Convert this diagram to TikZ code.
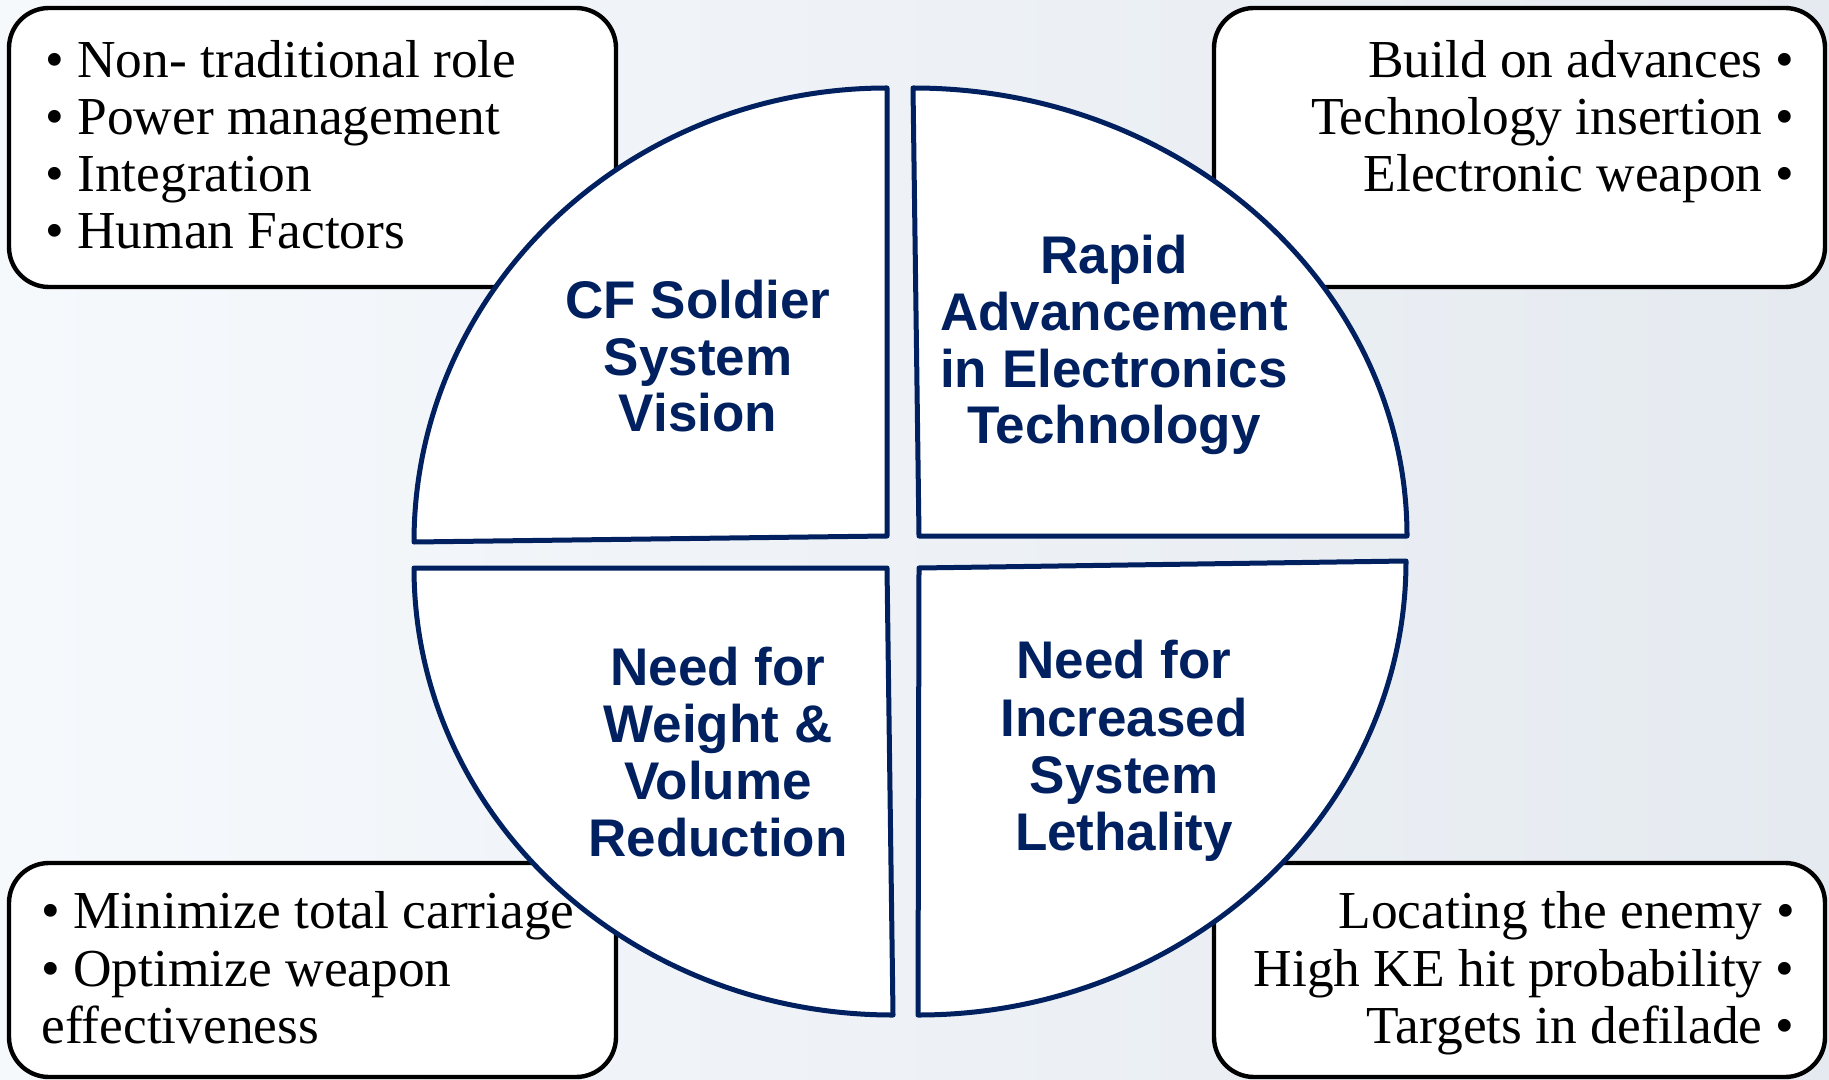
\documentclass[tikz,border=0pt]{standalone}
\usepackage{fontspec}
\setmainfont{Liberation Serif}
\setsansfont{Liberation Sans}
\definecolor{navy}{RGB}{0,32,96}
\definecolor{bgl}{RGB}{246,249,252}
\definecolor{bgr}{RGB}{229,234,240}
\begin{document}
\begin{tikzpicture}[x=0.5pt,y=-0.5pt,
  boxshape/.style={draw=black,line width=2.2pt,fill=white,rounded corners=20pt},
  quad/.style={draw=navy,line width=2.5pt,fill=white,line join=round},
  btxt/.style={inner sep=0pt,font=\fontsize{26.7}{28}\selectfont},
  qtxt/.style={inner sep=0pt,text=navy,font=\fontsize{26.5}{28}\selectfont\sffamily\bfseries,anchor=base}]
\useasboundingbox (0,0) rectangle (1829,1080);
\shade[left color=bgl,right color=bgr] (0,0) rectangle (1829,1080);
% boxes
\draw[boxshape] (9,8) rectangle (616,287);
\draw[boxshape] (1214,8) rectangle (1825,287);
\draw[boxshape] (9,863) rectangle (616,1077);
\draw[boxshape] (1214,863) rectangle (1825,1077);
% quadrants
\draw[quad] (414,542) .. controls (414,291) and (626,88) .. (887,88) -- (887,536) -- cycle;
\draw[quad] (913,88) .. controls (1186,88) and (1407,289) .. (1407,536) -- (919,536) -- cycle;
\draw[quad] (887,568) -- (893,1015) .. controls (628,1015) and (414,815) .. (414,568) -- cycle;
\draw[quad] (919,568) -- (1406,561) .. controls (1406,812) and (1187,1015) .. (918,1015) -- cycle;
% box texts
\node[btxt,anchor=base west] (a1) at (45,78) {• Non- traditional role};
\node[btxt,anchor=base west] (a2) at (45,135) {• Power management};
\node[btxt,anchor=base west] (a3) at (45,192) {• Integration};
\node[btxt,anchor=base west] (a4) at (45,249) {• Human Factors};
\node[btxt,anchor=base east] (b1) at (1795,78) {Build on advances •};
\node[btxt,anchor=base east] (b2) at (1795,135) {Technology insertion •};
\node[btxt,anchor=base east] (b3) at (1795,192) {Electronic weapon •};
\node[btxt,anchor=base west] (c1) at (41,928) {• Minimize total carriage};
\node[btxt,anchor=base west] (c2) at (41,986) {• Optimize weapon};
\node[btxt,anchor=base west] (c3) at (41,1043) {effectiveness};
\node[btxt,anchor=base east] (d1) at (1795,928) {Locating the enemy •};
\node[btxt,anchor=base east] (d2) at (1795,986) {High KE hit probability •};
\node[btxt,anchor=base east] (d3) at (1795,1043) {Targets in defilade •};
% quadrant labels
\node[qtxt] (q1a) at (698,319) {CF Soldier};
\node[qtxt] (q1b) at (698,375) {System};
\node[qtxt] (q1c) at (698,431) {Vision};
\node[qtxt] (q2a) at (1114,274) {Rapid};
\node[qtxt] (q2b) at (1114,331) {Advancement};
\node[qtxt] (q2c) at (1114,387) {in Electronics};
\node[qtxt] (q2d) at (1114,443) {Technology};
\node[qtxt] (q3a) at (718,685) {Need for};
\node[qtxt] (q3b) at (718,742) {Weight \&};
\node[qtxt] (q3c) at (718,799) {Volume};
\node[qtxt] (q3d) at (718,856) {Reduction};
\node[qtxt] (q4a) at (1124,678) {Need for};
\node[qtxt] (q4b) at (1124,736) {Increased};
\node[qtxt] (q4c) at (1124,793) {System};
\node[qtxt] (q4d) at (1124,850) {Lethality};
\end{tikzpicture}
\end{document}
